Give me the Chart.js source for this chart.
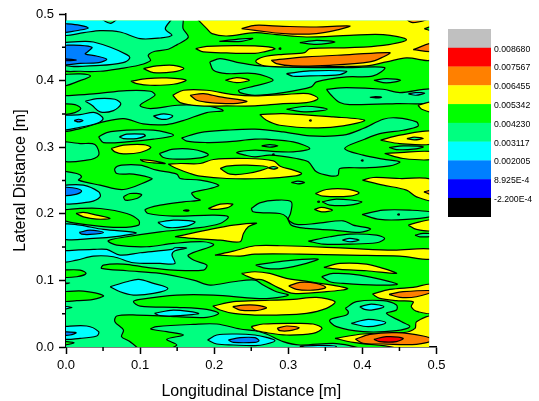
<!DOCTYPE html>
<html><head><meta charset="utf-8">
<style>html,body{margin:0;padding:0;background:#fff}#w{width:539px;height:401px}</style>
<script src="https://cdn.jsdelivr.net/npm/chart.js@4/dist/chart.umd.min.js"></script>
</head><body><div id="w"><canvas id="c" width="539" height="401"></canvas></div>
<script>
// Contour bands, lowest to highest level
const levelLabels = ['0.008680','0.007567','0.006455','0.005342','0.004230','0.003117','0.002005','8.925E-4','-2.200E-4'];
const bandColors = ['#c0c0c0','#ff0000','#ff8000','#ffff00','#00ff00','#00ff80','#00ffff','#0080ff','#0000ff','#000000'];
const xTicks = [0,0.1,0.2,0.3,0.4,0.5];
const yTicks = [0,0.1,0.2,0.3,0.4,0.5];
const minorTicks = [0.05,0.15,0.25,0.35,0.45];
const dataMaxMm = 490;
// Contour outlines: flat x,y lists in millimetres
const springAreas = [
 [0,490,156,490,158,478,165,465,150,454,138,447,120,444,111,438,114,430,98,423,73,418,46,414,19,414,0,418],
 [0,409,19,410,33,407,19,400,0,392],
 [0,377,37,380,82,385,114,384,120,378,100,363,114,358,150,363,186,363,212,355,190,352,158,340,136,334,104,335,78,343,50,338,19,328,0,326],
 [194,428,208,433,235,426.5,255,423,293,420.5,338,419.5,383,419.5,430,419.5,414.5,407,378.5,405.5,338,398,331,390.5,293,382,255,378,235,382,233,385.5,255,392,279.5,400.5,255,410.5,217,410.5,199,415.5],
 [207,459,230.5,462,252,463.5,237,459],
 [315.5,457,338,460.5,363,458,338,454.5],
 [44,315.5,55,322,82,325.5,118,325.5,145,318,118,312,82,308,50.5,307],
 [156,314,181,322,217,325.5,255,327,293,323,329,317,374,318,401,328,428,342,446,344,473,338,475,331.5,455,325.5,423.5,320.5,403,312,376,298,401,288,428,282,450.5,278,437,272,401,269,369.5,268,367,258,356,257,338,263,327,278,311,283,275,288,255,285.5,242,288,230.5,292,255,295.5,275,294,306.5,293,329,298,306.5,308,270.5,312,255,312,217,308,190,307,163,309],
 [126,290.5,145,297,172,296.5,192,289,181,284,149.5,282,131.5,284.5],
 [0,309,19,305.5,39,304,44,288,28,280.5,0,280.5],
 [0,264.5,14.5,260.5,21,255.5,17,250.5,46,243,77.5,236.5,111,249.5,116,253,91,259.5,68.5,260.5,66,268,75,273,100,273,122.5,265.5,149.5,259.5,154,253,181,250.5,206,243,194.5,238,170,231.5,174,224.5,181,220.5,158.5,218,127,213,107,206.5,111,200.5,145,196.5,199,198,219,195.5,208,185.5,172,178,127,173,82,165.5,57,159.5,68.5,153,109,150.5,145,155.5,185.5,158,199,153,165,138,172,130.5,190,123,185.5,115.5,145,115.5,109,119.5,77.5,124.5,50.5,123,48,118,82,114.5,127,110.5,172,100.5,194.5,93,226,98,255,100.5,266,93,284,83,300,78,275,73,255,73,199,78,149.5,78,100,71.5,91,68,100,61.5,149.5,59.5,190,56.5,206,50.5,190,44.5,149.5,45.5,95.5,48,68.5,46.5,66,38,77.5,25.5,75,15.5,86.5,8,98,0,0,0],
 [131.5,0,149.5,3,136,11.5,158.5,18,136,23,114.5,27,122.5,30.5,172,34,203.5,34.5,235,27,255,24.5,270.5,19.5,293,8,315.5,3,360.5,5.5,383,2,405.5,0],
 [250,208,261.5,216.5,284,220.5,304,218,303,200.5,300,191.5,311,184,338,185.5,374,189.5,387.5,183,411,177.5,396.5,172,360.5,175.5,324.5,178,304,183,297.5,195.5,288.5,200.5,266,201.5,252.5,203],
 [345.5,218,365,222,399,218,383,213,356,213],
 [399.5,199,428,205.5,464,205.5,490,202,490,196.5,459.5,191.5,423.5,191.5],
 [471,168,482,170.5,490,169.5,490,166.5,477.5,165.5],
 [327,159,356,165.5,383,169.5,419,168,430,163,419,156.5,383,154.5,347,154.5],
 [256,123,293,129,340,132,324.5,125.5,293,118,270.5,118],
 [345,105.5,360.5,110.5,396.5,108,447,94.5,419,93,374,95.5,356,98],
 [377,58,392,68,428,69.5,446,63,446,55.5,432.5,50.5,453,38,464,30.5,446,24.5,401,23,365,30.5,356,40.5,378.5,48,381,53],
 [297.5,357,324.5,361.5,352.5,357,324.5,353],
 [351.5,387,378.5,389.5,428,387,450.5,382,490,387,490,368,446,365.5,383,364,369.5,367,358,378],
 [415.5,400.5,432.5,403,451.5,400.5,432.5,396.5],
 [436,299.5,455,302,482,300.5,468.5,297,446,296.5]
];
const greenIslands = [
 [0,365,12,364,20,358,12,352,0,350],
 [77.5,225.5,86.5,230.5,102,229,95.5,223,80,220.5],
 [0,205.5,19,208,46,208,82,200.5,98,190.5,98,183,73,179.5,32.5,183,0,191.5],
 [0,115.5,19,115.5,27,110.5,14.5,105.5,0,105.5],
 [0,96,5,96,0,94.5],
 [0,83,23.5,84,50.5,77,37,71.5,14.5,69.5,0,69.5],
 [0,9,11,6.5,0,3]
];
const yellowAreas = [
 [174,490,190,478,197,470.5,217,467,255,472,284,469,324.5,465.5,383,468,428,469,459.5,461.5,428,453,383,449.5,329,448,322,442,293,439.5,266,435.5,256,429,268,422,315.5,420.5,374,421.5,405.5,422,432.5,428,459.5,434,490,433,490,490],
 [175,448,190,451.5,255,452,282,448,266,443,255,441,217,441.5,185.5,443],
 [104.5,418,122.5,422,145,423,159,418,145,413,118,412],
 [87.5,399,109,403,136,404,162,400.5,145,394.5,113.5,393,95.5,395.5],
 [215,400.5,230.5,404.5,247.5,400.5,230.5,397],
 [144,378,158.5,385.5,190,385.5,226,379,255,377,293,379,327,380.5,340,373,324.5,367,293,365.5,255,362,217,362,181,362,154,367],
 [261.5,349,293,350.5,360.5,345.5,403,340.5,374,332,338,329,288.5,333,270.5,340.5],
 [475,363,490,368,490,353,480,357],
 [424.5,310.5,450.5,318,490,324,490,305.5,450.5,305.5],
 [430,290.5,450.5,292,490,293,490,282,455,283],
 [61,298,77.5,303,104.5,304,114.5,299.5,100,292,77.5,290,66,293],
 [100,281.5,118,279.5,134,275.5,118,276.5,104.5,278.5],
 [138,274.5,154,275.5,181,275.5,199,281.5,244,283,280,279.5,289,271.5,307,265.5,318,260.5,307,256.5,266.5,253,217,253,181,256.5,167.5,260.5,149.5,268],
 [400,250.5,414.5,254.5,450.5,253,490,250.5,490,220.5,473,225.5,459.5,235.5,428,243],
 [336.5,230.5,351.5,236.5,378.5,237,395.5,231.5,383,226.5,347,226.5],
 [335,206.5,345,209.5,359.5,205.5,345,203],
 [192,208,208,214.5,225,214.5,217,209,199,206.5],
 [13.5,200.5,23.5,202,41.5,198,59.5,193,41.5,192,23.5,195.5],
 [462,183,477.5,188,490,190.5,490,175.5,473,176.5],
 [147,165.5,190,175.5,226,183,257,186,246,180.5,239.5,170.5,235,158,208,160.5,172,163],
 [201,138,226,144,255,152,293,152,383,148,441.5,145.5,490,146.5,490,132,450.5,136.5,383,138,315.5,139.5,255,139.5,235,136.5,212.5,137.5],
 [348,119.5,369.5,125.5,405.5,124.5,428,118,446,110.5,405.5,114.5,369.5,116.5],
 [237,110.5,255,113,275,110.5,297.5,103,329,98,380,88,351.5,83,306.5,80.5,288.5,88,266,100.5,255,102,245,106],
 [413.5,79.5,437,86.5,468.5,89.5,490,93,490,52,475,53,466,60.5,468.5,68,446,69.5,423.5,73],
 [198,61.5,226,68,255,69.5,306.5,71.5,338,74.5,363,68,351.5,58,324.5,50.5,284,48,255,48,226,50.5,208,55.5],
 [250,30.5,266,34.5,306.5,35.5,333.5,34.5,345.5,28,333.5,20.5,297.5,18,270.5,21.5,255,25.5],
 [363,13,401,19.5,455,21.5,471,28,473,38,490,45.5,490,0,428,2,387.5,7]
];
const greenInYellow = [
 [483.5,478,490,481.5,490,474.5],
 [208,268,217,271.5,244,273,273,269.5,244,260.5,221.5,259.5]
];
const cyanAreas = [
 [0,490,41,490,60,486,75,490,143,490,134,478,143,468,127,464,100,463,73,473,46,475,24,472,0,469],
 [0,457,25,459,37,458,60,450,82,439,86,434,77,427,46,423,0,425],
 [26,369,42,373,66,372,74,365,64,355,46,353,35,363],
 [0,348,19,349,39,352,50,343,42,336,19,330,0,327],
 [118,347,132,350,144,347,136,342,125,343],
 [297.5,410.5,329,414.5,378.5,414,369.5,409,329,407,306.5,406.5],
 [72,315.5,82,319.5,104.5,319.5,107,317,95.5,313,77.5,313],
 [0,243,23.5,243,44,233,46,225.5,32.5,218,0,216.5],
 [0,185.5,19,183,50.5,176.5,94.5,171.5,73,166.5,37,163,0,163],
 [124,187,145,190.5,174,188,163,181.5,136,179.5],
 [0,144.5,37,146.5,55,146.5,73,138,100,141.5,143,146.5,147,149,163,148.5,147,144.5,143,138,147,125.5,127,125.5,91,126.5,64,135.5,37,136.5,14.5,130.5,0,128],
 [59.5,90.5,82,98,98,101.5,118,95.5,137.5,88,118,80.5,91,78,73,83],
 [0,61.5,8,59.5,0,57],
 [119.5,50.5,145,55.5,179,50.5,154,47,127,47],
 [0,30.5,28,31.5,44,23,41.5,16.5,19,13,0,13],
 [191,10.5,203.5,18,230.5,19.5,255,18,270.5,14.5,282,9.5,270.5,4.5,255,2,226,3,203.5,4.5],
 [373,160.5,383,163,395.5,160.5,383,158],
 [396.5,60.5,412,64.5,429,60.5,412,55.5,403,56.5],
 [385,35.5,408,41.5,431.5,36.5,408,30.5],
 [315.5,1,340,2.5,365,1,340,0],
 [462,380,472,382,484,381,472,378]
];
const azureAreas = [
 [0,486,19,483,30,479,19,476,0,473],
 [0,453,19,453,35,450,30,444,26,440,41,437,55,432,44,427,19,426,0,425.5],
 [11,340,17,342,23,340,17,338],
 [0,240.5,14.5,238,21,234,14.5,229.5,0,228],
 [18,172,32.5,175.5,50.5,172,32.5,169,21,169.5],
 [0,23,13.5,21.5,5.5,18,0,18],
 [219,10.5,235,14,255,14,260.5,9.5,255,7,226,7]
];
const blueAreas = [
 [0,433,14,431,0,430]
];
const orangeAreas = [
 [237,478,255,483,293,481.5,338,480.5,383,482,369.5,477,338,470.5,293,470.5,255,475.5],
 [455,490,468,487,490,490],
 [468.5,446.5,490,456.5,490,444],
 [277,430.5,324.5,435.5,383,439,437,442,428,435.5,410,428,356,423,306.5,422,284,425.5],
 [167.5,378,185.5,380.5,208,375.5,244,369,226,365.5,194.5,367,176.5,370.5],
 [483,233,490,235.5,490,228],
 [300.5,91.5,315.5,97,338,95.5,350.5,89.5,333.5,85.5,311,86.5],
 [436,79,455,83,490,84,473,75.5,450.5,74.5],
 [225,60.5,239.5,63,255,63,270.5,59,261.5,55.5,255,54.5,235,55.5],
 [285,28,297.5,31.5,314.5,29,302,24.5,288.5,24.5],
 [390.5,11.5,410,19,446,21.5,482,16.5,490,10.5,473,4,428,4.5,401,5.5]
];
const redAreas = [
 [415.5,11.5,432.5,15.5,455,13,446,8,423.5,8]
];
// Very small closed contours that read as dark specks
const specks = [
 [410,375,418,376,426,375,418,374],
 [328,340,330,341,331,340,330,339],
 [287,448,289,449,290,448,289,447],
 [460,313,470,315,482,313,470,311],
 [264,302,275,304,286,302,275,300],
 [278,289,280,290,281,289,280,288],
 [273,269,280,271,286,269,280,267],
 [304,247,313,249,322,247,313,245],
 [447,199,449,200,450,199,449,198],
 [339,218,341,219,342,218,341,217],
 [158,205,162,206,166,205,162,204],
 [398,280,400,281,401,280,400,279]
];

const GREEN='#00ff00',SPRING='#00ff80',YELLOW='#ffff00',CYAN='#00ffff',AZURE='#0080ff',BLUE='#0000ff',ORANGE='#ff8000',RED='#ff0000';
const passes=[[springAreas,SPRING],[greenIslands,GREEN],[yellowAreas,YELLOW],[greenInYellow,GREEN],[cyanAreas,CYAN],[azureAreas,AZURE],[blueAreas,BLUE],[orangeAreas,ORANGE],[redAreas,RED],[specks,SPRING]];
const E=6;
function mm(v){ if(v<=0) return -E/1000; if(v>=dataMaxMm) return (dataMaxMm+E)/1000; return v/1000; }
function toPoints(f){ const p=[]; for(let i=0;i<f.length;i+=2) p.push({x:mm(f[i]),y:mm(f[i+1])}); p.push({x:p[0].x,y:p[0].y}); return p; }
const base={type:'scatter',showLine:true,pointRadius:0,fill:'shape',backgroundColor:GREEN,borderColor:GREEN,borderWidth:0,tension:0,
  data:toPoints([0,0,dataMaxMm,0,dataMaxMm,dataMaxMm,0,dataMaxMm])};
const drawn=[base];
passes.forEach(([list,col])=>list.forEach(f=>drawn.push({type:'scatter',showLine:true,pointRadius:0,pointHitRadius:0,fill:'shape',backgroundColor:col,borderColor:'#000',borderWidth:1.2,tension:0.33,data:toPoints(f)})));
const datasets=drawn.reverse();

const plotClip={id:'plotClip',
 beforeDatasetsDraw(c){const {x,y}=c.scales,ctx=c.ctx;ctx.save();ctx.beginPath();
  const l=x.getPixelForValue(0),r=x.getPixelForValue(dataMaxMm/1000),t=y.getPixelForValue(dataMaxMm/1000),b=y.getPixelForValue(0);
  ctx.rect(l,t,r-l,b-t);ctx.clip();},
 afterDatasetsDraw(c){c.ctx.restore();}};
const extras={id:'extras',afterDraw(c){const {x,y}=c.scales,ctx=c.ctx;ctx.save();
  ctx.strokeStyle='#000';ctx.lineWidth=1.5;ctx.beginPath();
  minorTicks.forEach(v=>{const px=x.getPixelForValue(v),py=y.getPixelForValue(v);
    ctx.moveTo(px,y.bottom);ctx.lineTo(px,y.bottom+4);ctx.moveTo(x.left,py);ctx.lineTo(x.left-4,py);});
  ctx.stroke();
  const L=448,W=43,T=29,H=18.77;
  bandColors.forEach((col,i)=>{ctx.fillStyle=col;ctx.fillRect(L,T+i*H,W,H+0.3);});
  ctx.fillStyle='#000';ctx.font='8.7px "Liberation Sans"';ctx.textAlign='left';ctx.textBaseline='middle';
  levelLabels.forEach((t,i)=>ctx.fillText(t,494,T+(i+1)*H+1.5));
  ctx.restore();}};
new Chart(document.getElementById('c'),{
 type:'scatter',data:{datasets},plugins:[plotClip,extras],
 options:{responsive:false,animation:false,events:[],
  layout:{padding:{left:0,top:14,right:102.5,bottom:0}},
  plugins:{legend:{display:false},tooltip:{enabled:false},title:{display:false}},
  scales:{
   x:{type:'linear',min:0,max:0.5,afterFit(s){s.height=54;},afterBuildTicks(s){s.ticks=xTicks.map(v=>({value:v}));},
     border:{color:'#000',width:1.5},grid:{drawOnChartArea:false,tickLength:7,tickColor:'#000',tickWidth:1.5},
     ticks:{color:'#000',padding:4,maxRotation:0,font:{family:'"Liberation Sans"',size:13},callback:v=>v.toFixed(1)},
     title:{display:true,text:'Longitudinal Distance [m]',color:'#000',font:{family:'"Liberation Sans"',size:16},padding:{top:0,bottom:0}}},
   y:{type:'linear',min:0,max:0.5,afterFit(s){s.width=66;},afterBuildTicks(s){s.ticks=yTicks.map(v=>({value:v}));},
     border:{color:'#000',width:1.5},grid:{drawOnChartArea:false,tickLength:7,tickColor:'#000',tickWidth:1.5},
     ticks:{color:'#000',padding:5,font:{family:'"Liberation Sans"',size:13},callback:v=>v.toFixed(1)},
     title:{display:true,text:'Lateral Distance [m]',color:'#000',font:{family:'"Liberation Sans"',size:16},padding:{top:11,bottom:0}}}
  }}});
</script></body></html>
